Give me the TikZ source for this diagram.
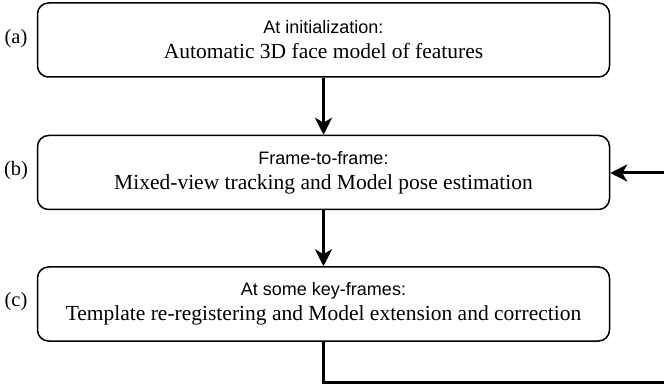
\documentclass[tikz,border=0pt]{standalone}
\usepackage{fontspec}
\setmainfont{Liberation Serif}
\setsansfont{Liberation Sans}
\usetikzlibrary{arrows.meta}
\newcommand{\headfont}{\sffamily\fontsize{18}{20}\selectfont}
\begin{document}
\begin{tikzpicture}[x=1pt,y=-1pt,
  box/.style={draw,line width=1.5pt,rounded corners=11pt,minimum width=572pt,minimum height=74pt,inner sep=0pt,align=center,font=\fontsize{21.5}{25}\selectfont},
  lab/.style={font=\fontsize{20.5}{22}\selectfont,inner sep=0pt},
  flow/.style={line width=3pt,-{Stealth[length=17pt,width=17pt,inset=5pt]}}]
\useasboundingbox (0,0) rectangle (664,387);
\clip (0,0) rectangle (664,387);
\node[box] (a) at (323.5,40) {{\headfont At initialization:}\\Automatic 3D face model of features};
\node[box] (b) at (323.5,172.5) {{\headfont Frame-to-frame:}\\Mixed-view tracking and Model pose estimation};
\node[box] (c) at (323.5,304) {{\headfont At some key-frames:}\\Template re-registering and Model extension and correction};
\node[lab] (la) at (16,39) {(a)};
\node[lab] (lb) at (16,171) {(b)};
\node[lab] (lc) at (16,302) {(c)};
\coordinate (p1) at (323.5,382);
\coordinate (p2) at (670,382);
\coordinate (p3) at (670,173);
\draw[flow] (a.south) -- (b.north);
\draw[flow] (b.south) -- (c.north);
\draw[flow] (c.south) -- (p1) -- (p2) -- (p3) -- (b.east |- p3);
\end{tikzpicture}
\end{document}
